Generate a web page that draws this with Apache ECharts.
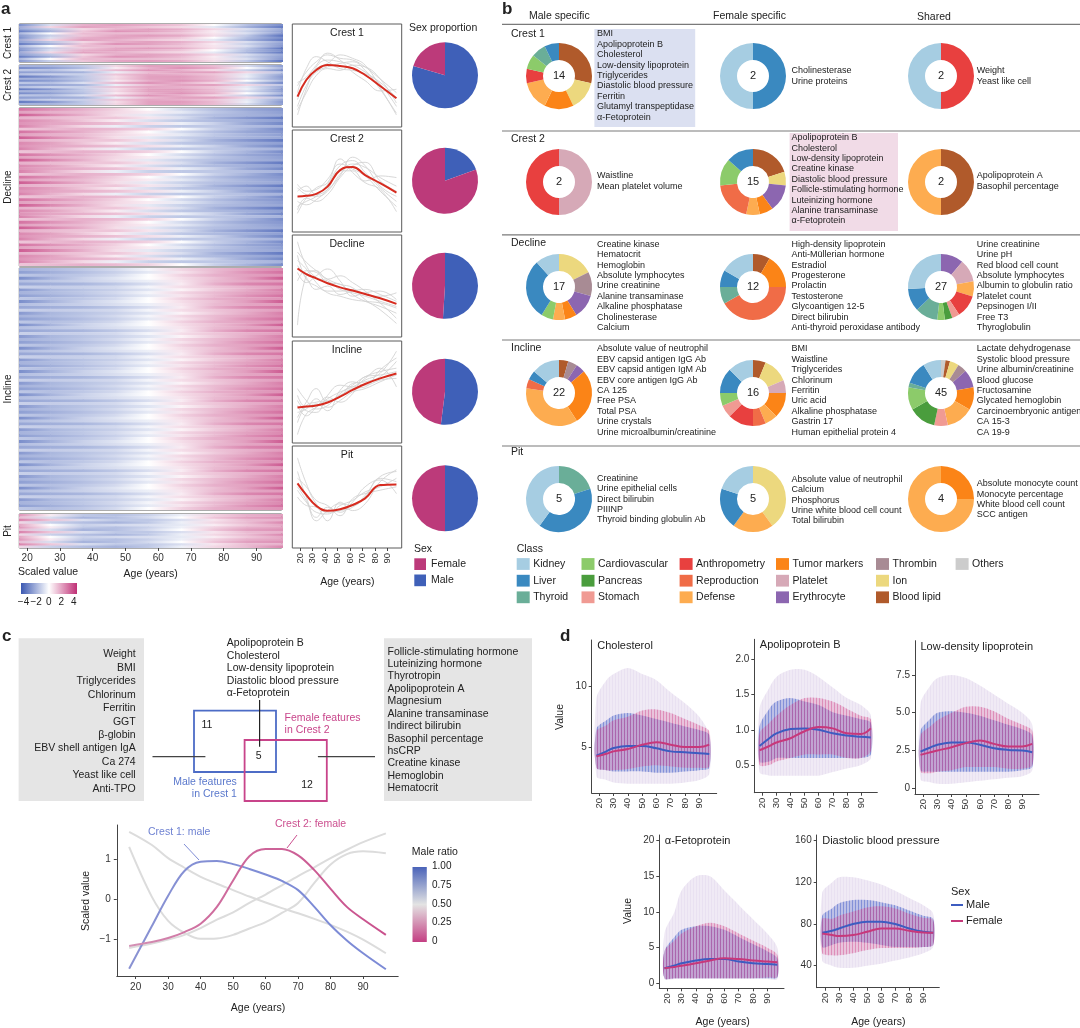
<!DOCTYPE html>
<html>
<head>
<meta charset="utf-8">
<title>Sex-specific ageing trajectories</title>
<script src="https://cdn.jsdelivr.net/npm/echarts@6.0.0/dist/echarts.min.js"></script>
<style>
  body { margin: 0; background: #fff; }
  #main { width: 1080px; height: 1028px; }
</style>
</head>
<body>
<div id="main"></div>
<script>
// ---------------- data ----------------
// panel a: heatmap row patterns (scaled value at heatAges), rows cycle through the patterns
const heatAges = [17, 27, 37, 47, 57, 67, 77, 87, 98];
const clusterNames = ['Crest 1', 'Crest 2', 'Decline', 'Incline', 'Pit'];
const clusterRows = [18, 19, 56, 83, 14];
const heatCrest1 = [
  [-2.5, -0.5, 1.2, 1.5, 1.2, 0.8, 0, -1.2, -2.5],
  [-1.8, 0.5, 1.5, 1.2, 0.8, 0.5, -0.3, -1.5, -3],
  [-2, -1, 0.5, 1.2, 1.5, 1.2, 0.5, -0.5, -1.8],
  [-3, -1.5, 0.8, 1.8, 1.5, 1, 0.2, -0.8, -2],
  [-1.5, 0, 1, 1, 1, 0.8, 0.3, -0.5, -2.2],
  [-2.2, -0.8, 0.8, 1.4, 1.6, 1.3, 0.4, -1, -3.2]
];
const heatCrest2 = [
  [-1.5, -1.5, -1, 0.5, 1.5, 1.5, 1, -0.5, -2],
  [-2.5, -2, -1.2, 0.2, 1.2, 1.8, 1.2, 0, -1.5],
  [-1, -1.2, -0.5, 1, 1.8, 1.2, 0.5, -0.8, -2.5],
  [-2, -1.8, -1.5, -0.2, 1, 1.5, 1.5, 0.5, -1],
  [-1.2, -0.8, -0.8, 0.8, 1.4, 1.2, 0.8, -0.3, -1.8],
  [-3, -2.2, -1, 0.4, 1.5, 1.6, 1, -0.2, -2.2]
];
const heatDecline = [
  [2.5, 1.8, 1.2, 0.6, 0, -0.6, -1.2, -1.8, -2.2],
  [1.5, 1.2, 1, 0.5, 0.2, -0.3, -1, -1.5, -2],
  [3, 2, 1.2, 0.4, -0.3, -0.8, -1.2, -1.5, -1.8],
  [1.2, 1, 0.8, 0.8, 0.3, -0.5, -1.5, -2.2, -3],
  [2, 1.5, 0.8, 0.2, -0.5, -1, -1.3, -1.6, -2],
  [1.8, 1.4, 1.2, 0.9, 0.4, -0.2, -0.8, -1.8, -2.6],
  [2.2, 1.2, 0.5, -0.2, -0.8, -1, -1, -1.2, -1.5],
  [0.8, 1, 1.2, 1, 0.6, 0, -0.8, -1.5, -2.5]
];
const heatIncline = [
  [-1.5, -1.3, -1, -0.6, -0.1, 0.5, 1, 1.5, 2],
  [-2, -1.6, -1.2, -0.8, -0.3, 0.3, 1, 1.8, 2.5],
  [-1, -1.2, -1, -0.6, 0, 0.6, 1.2, 1.5, 1.8],
  [-2.5, -1.5, -0.8, -0.4, 0, 0.4, 0.9, 1.6, 3],
  [-1.2, -1, -0.8, -0.5, -0.2, 0.3, 1, 1.4, 1.6],
  [-1.8, -1.6, -1.4, -1, -0.5, 0.2, 1.2, 2, 2.4],
  [-0.8, -0.9, -0.8, -0.6, -0.1, 0.4, 0.8, 1.2, 1.6],
  [-2.2, -1.4, -1.1, -0.8, -0.4, 0.1, 0.7, 1.3, 2.2]
];
const heatPit = [
  [1.8, 0.2, -1, -1.2, -0.8, -0.2, 0.6, 1.2, 1.5],
  [1, -0.5, -1.5, -1.2, -0.6, 0, 0.8, 1.5, 1.8],
  [2.2, 0.8, -0.5, -1, -1, -0.5, 0.3, 1, 1.2],
  [0.5, -0.8, -1.2, -1.5, -1, -0.2, 0.5, 1, 2],
  [1.5, 0, -0.8, -0.6, -0.5, -0.3, 0.2, 0.8, 1.4]
];

// panel a: cluster trajectories
const lineAges = [18, 25, 33, 42, 52, 62, 72, 84, 97];
const meanCrest1 = [-1.23, -0.26, 0.32, 0.61, 0.55, 0.42, 0.03, -0.61, -1.33];
const meanCrest2 = [-0.91, -0.87, -0.76, -0.33, 0.64, 0.83, 0.35, -0.13, -0.68];
const meanDecline = [1.03, 0.7, 0.45, 0.16, -0.08, -0.27, -0.47, -0.72, -1.05];
const meanIncline = [-0.91, -0.85, -0.8, -0.62, -0.27, 0.12, 0.47, 0.8, 1.09];
const meanPit = [0.8, 0.12, -0.52, -0.81, -0.72, -0.47, -0.08, 0.7, 0.74];
const greyCrest1 = [
  [-2.3, -0.8, 0.5, 0.9, 0.8, 0.6, 0.2, -0.5, -1.8],
  [-0.6, 0.2, 0.8, 1.2, 1.0, 0.9, 0.5, -0.2, -1.0],
  [-1.8, -0.6, 0.2, 0.5, 0.7, 0.8, 0.3, -0.8, -2.2],
  [-1.0, 0.4, 1.1, 0.8, 0.4, 0.3, 0.1, -0.4, -1.3],
  [-2.0, -1.0, 0.0, 0.4, 0.3, 0.6, 0.5, -0.2, -1.6],
  [-0.4, -0.1, 0.6, 1.3, 0.9, 0.2, -0.3, -0.9, -0.8],
  [-1.4, -0.3, 0.4, 0.7, 1.2, 1.0, 0.6, -0.7, -2.3]
];
const greyCrest2 = [
  [-1.5, -1.2, -0.9, -0.2, 0.9, 1.2, 0.5, -0.4, -1.2],
  [-0.4, -0.8, -0.9, -0.6, 0.4, 1.0, 0.8, 0.2, -0.3],
  [-1.9, -1.0, -0.4, -0.1, 1.3, 0.5, -0.1, -0.5, -1.8],
  [-0.6, -0.3, -0.8, -0.5, 0.3, 1.4, 0.9, -0.3, -0.9],
  [-1.2, -1.4, -1.1, -0.5, 0.6, 0.6, 0.0, 0.3, 0.2],
  [-0.2, -0.6, -0.5, 0.1, 1.0, 0.7, 0.3, -0.6, -1.5],
  [-1.7, -1.0, -1.2, -0.8, 0.2, 0.9, 1.1, 0.0, -0.6]
];
const greyDecline = [
  [2.6, 1.2, 0.5, 0.3, -0.2, -0.4, -0.6, -0.9, -1.2],
  [0.3, 0.9, 0.8, 0.2, 0.1, -0.5, -0.9, -1.2, -1.6],
  [1.8, 0.4, 0.0, -0.3, -0.3, -0.2, -0.5, -0.6, -0.4],
  [-2.3, 0.6, 0.9, 0.4, 0.6, 0.2, -0.3, -1.0, -1.9],
  [1.5, 1.0, 0.2, -0.4, -0.6, -0.8, -0.9, -1.0, -1.3],
  [0.8, 0.2, 0.6, 1.0, 0.3, -0.6, -0.4, -0.3, -0.8],
  [2.0, 1.4, 0.9, 0.4, 0.1, -0.1, -0.8, -1.4, -2.2],
  [1.2, 0.5, -0.2, 0.0, -0.5, -0.3, -0.2, -0.5, -0.9]
];
const greyIncline = [
  [-2.5, -1.3, -0.9, -0.4, 0.0, 0.3, 0.7, 1.1, 2.4],
  [0.2, -0.5, -1.0, -0.8, -0.1, 0.4, 0.9, 1.2, 1.4],
  [-1.2, -1.0, -0.4, -0.9, -0.5, 0.0, 0.2, 0.6, 1.0],
  [-0.5, -1.1, -1.2, -0.2, 0.4, 0.3, 0.8, 1.4, 0.3],
  [-1.8, -0.8, -0.6, -0.5, -0.3, 0.5, 0.6, 0.9, 1.8],
  [-0.8, -1.4, -0.9, -0.3, -0.6, -0.1, 0.9, 1.0, 1.2],
  [-1.5, -0.6, 0.2, -0.6, -0.2, 0.2, 0.3, 1.3, 2.0],
  [-0.2, -0.9, -0.7, -1.1, 0.1, 0.6, 0.4, 0.7, 0.8]
];
const greyPit = [
  [2.3, 0.8, -0.4, -0.9, -0.8, -0.6, 0.1, 1.2, 1.5],
  [0.4, -0.3, -0.9, -1.0, -0.5, -0.2, 0.3, 0.6, 1.1],
  [1.5, 0.0, -1.2, -0.6, -0.9, -0.3, 0.6, 1.0, 0.2],
  [0.0, -0.5, -0.6, -1.4, -0.3, -0.8, -0.4, 0.9, 1.6],
  [1.1, 0.6, -0.2, -0.5, -1.1, -0.1, 0.2, 0.4, 0.6],
  [0.6, -0.2, -1.4, -0.8, -0.4, -0.5, 0.0, 1.1, 0.9]
];
const sexMale = [79.5, 19.5, 51, 52, 50];
const sexFemale = [20.5, 80.5, 49, 48, 50];

// panel b: class composition of each group (clockwise from 12 o'clock)
const donutCrest1Male = [['Blood lipid', 4], ['Ion', 2], ['Tumor markers', 2], ['Defense', 2], ['Anthropometry', 1], ['Cardiovascular', 1], ['Thyroid', 1], ['Liver', 1]];
const donutCrest1Female = [['Liver', 1], ['Kidney', 1]];
const donutCrest1Shared = [['Anthropometry', 1], ['Kidney', 1]];
const donutCrest2Male = [['Platelet', 1], ['Anthropometry', 1]];
const donutCrest2Female = [['Blood lipid', 3], ['Ion', 1], ['Erythrocyte', 2], ['Tumor markers', 1], ['Defense', 1], ['Reproduction', 3], ['Cardiovascular', 2], ['Liver', 2]];
const donutCrest2Shared = [['Blood lipid', 1], ['Defense', 1]];
const donutDeclineMale = [['Ion', 3], ['Thrombin', 2], ['Erythrocyte', 2], ['Tumor markers', 1], ['Defense', 1], ['Cardiovascular', 1], ['Liver', 5], ['Kidney', 2]];
const donutDeclineFemale = [['Blood lipid', 1], ['Tumor markers', 2], ['Reproduction', 5], ['Thyroid', 1], ['Liver', 1], ['Kidney', 2]];
const donutDeclineShared = [['Erythrocyte', 3], ['Platelet', 3], ['Defense', 2], ['Anthropometry', 3], ['Stomach', 1], ['Pancreas', 1], ['Cardiovascular', 1], ['Thyroid', 3], ['Liver', 3], ['Kidney', 7]];
const donutInclineMale = [['Blood lipid', 1], ['Thrombin', 1], ['Erythrocyte', 1], ['Tumor markers', 6], ['Defense', 8], ['Reproduction', 1], ['Liver', 1], ['Kidney', 3]];
const donutInclineFemale = [['Blood lipid', 1], ['Ion', 2], ['Platelet', 1], ['Tumor markers', 2], ['Defense', 1], ['Reproduction', 1], ['Anthropometry', 2], ['Stomach', 1], ['Cardiovascular', 1], ['Liver', 2], ['Kidney', 2]];
const donutInclineShared = [['Others', 1], ['Blood lipid', 1], ['Ion', 2], ['Thrombin', 2], ['Erythrocyte', 4], ['Tumor markers', 5], ['Defense', 6], ['Stomach', 3], ['Pancreas', 6], ['Cardiovascular', 5], ['Thyroid', 1], ['Liver', 5], ['Kidney', 4]];
const donutPitMale = [['Thyroid', 1], ['Liver', 2], ['Kidney', 2]];
const donutPitFemale = [['Ion', 2], ['Defense', 1], ['Liver', 1], ['Kidney', 1]];
const donutPitShared = [['Tumor markers', 1], ['Defense', 3]];

const listCrest1Male = ['BMI', 'Apolipoprotein B', 'Cholesterol', 'Low-density lipoprotein', 'Triglycerides', 'Diastolic blood pressure', 'Ferritin', 'Glutamyl transpeptidase', 'α-Fetoprotein'];
const listCrest1Female = ['Cholinesterase', 'Urine proteins'];
const listCrest1Shared = ['Weight', 'Yeast like cell'];
const listCrest2Male = ['Waistline', 'Mean platelet volume'];
const listCrest2Female = ['Apolipoprotein B', 'Cholesterol', 'Low-density lipoprotein', 'Creatine kinase', 'Diastolic blood pressure', 'Follicle-stimulating hormone', 'Luteinizing hormone', 'Alanine transaminase', 'α-Fetoprotein'];
const listCrest2Shared = ['Apolipoprotein A', 'Basophil percentage'];
const listDeclineMale = ['Creatine kinase', 'Hematocrit', 'Hemoglobin', 'Absolute lymphocytes', 'Urine creatinine', 'Alanine transaminase', 'Alkaline phosphatase', 'Cholinesterase', 'Calcium'];
const listDeclineFemale = ['High-density lipoprotein', 'Anti-Müllerian hormone', 'Estradiol', 'Progesterone', 'Prolactin', 'Testosterone', 'Glycoantigen 12-5', 'Direct bilirubin', 'Anti-thyroid peroxidase antibody'];
const listDeclineShared = ['Urine creatinine', 'Urine pH', 'Red blood cell count', 'Absolute lymphocytes', 'Albumin to globulin ratio', 'Platelet count', 'Pepsinogen I/II', 'Free T3', 'Thyroglobulin'];
const listInclineMale = ['Absolute value of neutrophil', 'EBV capsid antigen IgG Ab', 'EBV capsid antigen IgM Ab', 'EBV core antigen IgG Ab', 'CA 125', 'Free PSA', 'Total PSA', 'Urine crystals', 'Urine microalbumin/creatinine'];
const listInclineFemale = ['BMI', 'Waistline', 'Triglycerides', 'Chlorinum', 'Ferritin', 'Uric acid', 'Alkaline phosphatase', 'Gastrin 17', 'Human epithelial protein 4'];
const listInclineShared = ['Lactate dehydrogenase', 'Systolic blood pressure', 'Urine albumin/creatinine', 'Blood glucose', 'Fructosamine', 'Glycated hemoglobin', 'Carcinoembryonic antigen', 'CA 15-3', 'CA 19-9'];
const listPitMale = ['Creatinine', 'Urine epithelial cells', 'Direct bilirubin', 'PIIINP', 'Thyroid binding globulin Ab'];
const listPitFemale = ['Absolute value of neutrophil', 'Calcium', 'Phosphorus', 'Urine white blood cell count', 'Total bilirubin'];
const listPitShared = ['Absolute monocyte count', 'Monocyte percentage', 'White blood cell count', 'SCC antigen'];
const legendClasses = [['Kidney', 'Liver', 'Thyroid'], ['Cardiovascular', 'Pancreas', 'Stomach'], ['Anthropometry', 'Reproduction', 'Defense'], ['Tumor markers', 'Platelet', 'Erythrocyte'], ['Thrombin', 'Ion', 'Blood lipid'], ['Others']];

// panel c
const vennLeft = ['Weight', 'BMI', 'Triglycerides', 'Chlorinum', 'Ferritin', 'GGT', 'β-globin', 'EBV shell antigen IgA', 'Ca 274', 'Yeast like cell', 'Anti-TPO'];
const vennMid = ['Apolipoprotein B', 'Cholesterol', 'Low-density lipoprotein', 'Diastolic blood pressure', 'α-Fetoprotein'];
const vennRight = ['Follicle-stimulating hormone', 'Luteinizing hormone', 'Thyrotropin', 'Apolipoprotein A', 'Magnesium', 'Alanine transaminase', 'Indirect bilirubin', 'Basophil percentage', 'hsCRP', 'Creatine kinase', 'Hemoglobin', 'Hematocrit'];
const vennCounts = [11, 5, 12];
const cAges = [18, 25, 30, 35, 40, 45, 50, 55, 60, 65, 70, 75, 80, 85, 90, 97];
const cCrest1Male = [-1.75, -0.68, 0.08, 0.7, 0.93, 0.95, 0.87, 0.75, 0.61, 0.45, 0.22, -0.2, -0.66, -1.04, -1.36, -1.76];
const cCrest2Female = [-1.18, -1.08, -0.98, -0.83, -0.62, -0.2, 0.46, 1.07, 1.25, 1.25, 1.09, 0.72, 0.25, -0.2, -0.51, -0.9];
const cDecline = [1.68, 1.35, 1.02, 0.78, 0.55, 0.38, 0.22, 0.06, -0.09, -0.23, -0.36, -0.5, -0.65, -0.82, -1.02, -1.36];
const cPit = [1.3, 0.05, -0.55, -0.85, -1.0, -0.99, -0.9, -0.74, -0.58, -0.35, -0.1, 0.4, 0.86, 1.12, 1.19, 1.14];
const cIncline = [-1.23, -1.12, -1.02, -0.9, -0.73, -0.52, -0.34, -0.1, 0.11, 0.34, 0.57, 0.79, 1.02, 1.23, 1.42, 1.64];
const ratioLabels = ['1.00', '0.75', '0.50', '0.25', '0'];

// panel d: per-age cloud envelopes and smoothed means
const dAges = [18, 25, 30, 40, 50, 60, 70, 80, 90, 97];
const cholMale = [4.3, 4.65, 4.92, 5.1, 5.1, 4.9, 4.65, 4.57, 4.5, 4.43];
const cholFemale = [4.24, 4.45, 4.65, 4.84, 5.19, 5.4, 5.2, 5.0, 5.0, 5.2];
const cholOuterLo = [2.6, 2.3, 2.1, 2.0, 2.0, 2.0, 2.0, 2.1, 2.3, 2.8];
const cholOuterHi = [9.0, 10.5, 11.0, 11.5, 11.0, 10.5, 9.5, 8.6, 7.5, 6.0];
const cholMaleLo = [3.3, 3.1, 3.0, 3.0, 3.0, 2.9, 2.9, 3.0, 3.1, 3.3];
const cholMaleHi = [6.5, 7.2, 7.6, 7.8, 7.6, 7.3, 7.0, 6.7, 6.4, 6.0];
const cholFemaleLo = [3.3, 3.1, 3.1, 3.2, 3.4, 3.5, 3.4, 3.3, 3.3, 3.4];
const cholFemaleHi = [6.3, 6.8, 7.2, 7.5, 8.0, 8.1, 7.8, 7.3, 6.8, 6.3];
const apobMale = [0.77, 0.88, 0.95, 1.01, 1.02, 1.0, 0.95, 0.92, 0.9, 0.89];
const apobFemale = [0.71, 0.77, 0.82, 0.88, 0.98, 1.04, 1.02, 0.95, 0.94, 1.02];
const apobOuterLo = [0.4, 0.35, 0.35, 0.35, 0.35, 0.35, 0.4, 0.45, 0.5, 0.6];
const apobOuterHi = [1.3, 1.6, 1.75, 1.85, 1.85, 1.75, 1.6, 1.45, 1.35, 1.2];
const apobMaleLo = [0.55, 0.55, 0.6, 0.6, 0.6, 0.6, 0.6, 0.6, 0.6, 0.65];
const apobMaleHi = [1.05, 1.3, 1.4, 1.45, 1.4, 1.35, 1.25, 1.2, 1.15, 1.1];
const apobFemaleLo = [0.5, 0.5, 0.55, 0.6, 0.65, 0.65, 0.65, 0.6, 0.6, 0.7];
const apobFemaleHi = [0.95, 1.1, 1.2, 1.35, 1.45, 1.45, 1.4, 1.3, 1.2, 1.15];
const ldlMale = [2.43, 2.7, 2.88, 3.03, 3.03, 2.88, 2.65, 2.54, 2.5, 2.39];
const ldlFemale = [2.21, 2.38, 2.5, 2.72, 2.99, 3.16, 2.94, 2.77, 2.77, 2.94];
const ldlOuterLo = [0.6, 0.4, 0.3, 0.3, 0.4, 0.5, 0.6, 0.7, 0.8, 1.2];
const ldlOuterHi = [5.6, 6.8, 7.3, 7.5, 7.3, 6.8, 6.2, 5.6, 5.0, 4.2];
const ldlMaleLo = [1.2, 1.1, 1.1, 1.1, 1.1, 1.1, 1.1, 1.1, 1.2, 1.4];
const ldlMaleHi = [3.8, 4.6, 5.0, 5.1, 5.0, 4.8, 4.5, 4.2, 3.9, 3.5];
const ldlFemaleLo = [1.1, 1.0, 1.1, 1.2, 1.4, 1.4, 1.4, 1.3, 1.3, 1.5];
const ldlFemaleHi = [3.5, 4.1, 4.5, 5.0, 5.4, 5.4, 5.1, 4.6, 4.2, 3.8];
const afpMale = [2.1, 2.5, 2.8, 3.2, 3.4, 3.4, 3.05, 2.8, 2.7, 2.6];
const afpFemale = [2.1, 2.3, 2.45, 2.8, 3.2, 3.5, 3.4, 3.2, 3.05, 2.95];
const afpOuterLo = [0.6, 0.6, 0.6, 0.6, 0.6, 0.6, 0.6, 0.6, 0.6, 0.6];
const afpOuterHi = [7, 10, 13, 15, 15, 13, 11, 9, 7, 5];
const afpMaleLo = [0.7, 0.7, 0.7, 0.7, 0.7, 0.7, 0.7, 0.7, 0.7, 0.8];
const afpMaleHi = [4.5, 6.5, 7.5, 8, 8, 7.5, 6.5, 5.5, 4.5, 3.5];
const afpFemaleLo = [0.7, 0.7, 0.7, 0.7, 0.7, 0.7, 0.7, 0.7, 0.8, 0.9];
const afpFemaleHi = [4.5, 6.0, 7.0, 8.0, 8.5, 8.0, 7.0, 6.0, 5.0, 4.0];
const dbpMale = [71.7, 73.5, 75.8, 80, 82.2, 82.2, 80, 75.8, 72.6, 71.7];
const dbpFemale = [71, 69.5, 68.5, 69.4, 72.6, 75.8, 75.8, 73.6, 72, 71.7];
const dbpOuterLo = [45, 40, 38, 38, 40, 42, 45, 48, 52, 58];
const dbpOuterHi = [110, 120, 125, 125, 122, 118, 112, 105, 98, 90];
const dbpMaleLo = [58, 60, 62, 63, 62, 60, 58, 58, 58, 60];
const dbpMaleHi = [88, 95, 100, 103, 103, 101, 98, 93, 88, 85];
const dbpFemaleLo = [52, 50, 50, 52, 55, 57, 57, 57, 58, 60];
const dbpFemaleHi = [85, 85, 88, 92, 96, 97, 95, 90, 86, 84];
const tickAges = [20, 30, 40, 50, 60, 70, 80, 90];

// ---------------- styles ----------------
const FONT = '"Liberation Sans", Arial, Helvetica, sans-serif';
const INK = '#222';
const MALE = '#3f60b8';
const FEMALE = '#bc3a7a';
const classColors = {
  'Kidney': '#a6cde2', 'Liver': '#3a89c0', 'Thyroid': '#6aae98', 'Cardiovascular': '#8ccb6a', 'Pancreas': '#4a9d3d',
  'Stomach': '#f09a93', 'Anthropometry': '#e8403f', 'Reproduction': '#f06c47', 'Defense': '#fdac50',
  'Tumor markers': '#fb8417', 'Platelet': '#d6a9b7', 'Erythrocyte': '#8c66b0', 'Thrombin': '#a88b94',
  'Ion': '#ecd87e', 'Blood lipid': '#b05a2b', 'Others': '#cccccc'
};

// diverging blue-white-magenta scale for the scaled values (-4..4)
function heatColor(v) {
  const t = Math.max(-1, Math.min(1, v / 4));
  const end = t < 0 ? [59, 88, 178] : [192, 48, 118];
  const a = Math.pow(Math.abs(t), 0.8);
  const c = [0, 1, 2].map(i => Math.round(255 + (end[i] - 255) * a));
  return 'rgb(' + c.join(',') + ')';
}

// vertical-stripe fill used for the dense point clouds of panel d
function stripes(rgb, a1, a2) {
  const cv = document.createElement('canvas');
  cv.width = 3; cv.height = 2;
  const ctx = cv.getContext('2d');
  ctx.fillStyle = 'rgba(' + rgb + ',' + a1 + ')';
  ctx.fillRect(0, 0, 1, 2);
  ctx.fillStyle = 'rgba(' + rgb + ',' + a2 + ')';
  ctx.fillRect(1, 0, 2, 2);
  return { image: cv, repeat: 'repeat' };
}

// ---------------- builders ----------------
const grids = [], xAxes = [], yAxes = [], series = [], G = [];

function addGrid(l, t, r, b, extra) {
  grids.push(Object.assign({ left: l, top: t, width: r - l, height: b - t, containLabel: false, outerBoundsMode: 'none' }, extra || {}));
  return grids.length - 1;
}
function valAxis(gi, min, max, o) {
  o = o || {};
  return {
    type: 'value', gridIndex: gi, min: min, max: max, inverse: !!o.inverse, show: o.show !== false,
    axisLine: { show: !!o.line, onZero: false, lineStyle: { color: '#444', width: 1 } },
    axisTick: { show: !!o.ticks, customValues: o.ticks, length: 3, lineStyle: { color: '#444' } },
    axisLabel: { show: !!o.ticks, customValues: o.ticks, color: '#333', fontSize: o.fs || 10, fontFamily: FONT,
      rotate: o.rot || 0, margin: o.margin || 4, formatter: o.fmt },
    splitLine: { show: false }
  };
}
function text(x, y, s, o) {
  o = o || {};
  G.push({
    type: 'text', x: x, y: y, rotation: o.rot || 0, z: 100, silent: true,
    style: {
      text: s, fill: o.color || INK, fontSize: o.size || 10.5, fontFamily: FONT, fontWeight: o.weight || 'normal',
      align: o.align || 'left', verticalAlign: o.va || 'middle',
      textAlign: o.align || 'left', textVerticalAlign: o.va || 'middle', lineHeight: o.lh
    }
  });
}
function list(x, yFirst, lines, lh, o) {
  o = Object.assign({ size: 9, lh: lh, va: 'top' }, o || {});
  text(x, yFirst - lh / 2, lines.join('\n'), o);
}
function rect(x, y, w, h, style, z) {
  G.push({ type: 'rect', z: z || 1, silent: true, shape: { x: x, y: y, width: w, height: h }, style: style });
}
function seg(x1, y1, x2, y2, color, w) {
  G.push({ type: 'line', z: 50, silent: true, shape: { x1: x1, y1: y1, x2: x2, y2: y2 }, style: { stroke: color, lineWidth: w || 1 } });
}
function lineSeries(gi, ages, vals, style, smooth) {
  return {
    type: 'line', xAxisIndex: gi, yAxisIndex: gi, symbol: 'none', silent: true, smooth: smooth == null ? 0.4 : smooth,
    lineStyle: style, data: ages.map((a, i) => [a, vals[i]]), z: style.z || 3
  };
}

// ================= panel a =================
text(1, 9, 'a', { size: 17, weight: 'bold' });
const heatBoxes = [[24, 62], [65, 105], [108, 266], [268, 510], [514, 548]];
const heatPatterns = [heatCrest1, heatCrest2, heatDecline, heatIncline, heatPit];
heatBoxes.forEach((bx, k) => {
  const gi = addGrid(19.3, bx[0], 281.7, bx[1], { show: true, borderColor: '#5a5a5a', borderWidth: 1, backgroundColor: '#fff' });
  const last = k === 4;
  xAxes.push(valAxis(gi, 17.6, 97.7, last ? { ticks: tickAges, margin: 5 } : { show: false }));
  yAxes.push(valAxis(gi, 0, clusterRows[k], { inverse: true, show: false }));
  const pats = heatPatterns[k];
  const data = [];
  for (let r = 0; r < clusterRows[k]; r++) {
    const p = pats[r % pats.length];
    for (let j = 0; j < heatAges.length - 1; j++) data.push([heatAges[j], heatAges[j + 1], r, p[j], p[j + 1]]);
  }
  series.push({
    type: 'custom', xAxisIndex: gi, yAxisIndex: gi, clip: true, silent: true,
    encode: { x: [0, 1], y: 2 },
    renderItem: function (params, api) {
      const p0 = api.coord([api.value(0), api.value(2)]);
      const p1 = api.coord([api.value(1), api.value(2) + 1]);
      return {
        type: 'rect',
        shape: { x: p0[0], y: p0[1], width: p1[0] - p0[0] + 0.6, height: p1[1] - p0[1] + 0.4 },
        style: { fill: new echarts.graphic.LinearGradient(0, 0, 1, 0, [
          { offset: 0, color: heatColor(api.value(3)) }, { offset: 1, color: heatColor(api.value(4)) }]) }
      };
    },
    data: data
  });
  text(8.5, (bx[0] + bx[1]) / 2, clusterNames[k], { rot: Math.PI / 2, align: 'center', size: 10 });
});
text(150.7, 574.5, 'Age (years)', { align: 'center' });
text(18, 572, 'Scaled value', { size: 10.5 });
rect(21, 583, 56, 11, { fill: new echarts.graphic.LinearGradient(0, 0, 1, 0, [
  { offset: 0, color: heatColor(-4) }, { offset: 0.5, color: '#ffffff' }, { offset: 1, color: heatColor(4) }]) });
['−4', '−2', '0', '2', '4'].forEach((s, i) => text(23.5 + i * 12.6, 602, s, { align: 'center', size: 10 }));

// trajectories
const panelBoxes = [[24, 127], [130, 232], [235, 337], [341, 443], [446, 548]];
const means = [meanCrest1, meanCrest2, meanDecline, meanIncline, meanPit];
const greys = [greyCrest1, greyCrest2, greyDecline, greyIncline, greyPit];
panelBoxes.forEach((bx, k) => {
  const gi = addGrid(292.3, bx[0], 401.7, bx[1], { show: true, borderColor: '#5a5a5a', borderWidth: 1 });
  const last = k === 4;
  xAxes.push(valAxis(gi, 13.85, 101.2, last ? { ticks: tickAges, rot: 90, fs: 9.5, margin: 5 } : { show: false }));
  yAxes.push(valAxis(gi, -3, 3, { show: false }));
  greys[k].forEach(g => series.push(lineSeries(gi, lineAges, g, { color: '#d2d2d2', width: 0.9 }, 0.45)));
  series.push(lineSeries(gi, lineAges, means[k], { color: '#d62b1f', width: 2, z: 5 }, 0.45));
  text(347, bx[0] + 9.3, clusterNames[k], { align: 'center', size: 10.5 });
});
text(347.3, 582, 'Age (years)', { align: 'center' });

// sex proportion pies
text(409, 28.5, 'Sex proportion', { size: 10.5 });
const pieY = [75.3, 180.7, 285.8, 391.7, 498.3];
pieY.forEach((cy, k) => {
  series.push({
    type: 'pie', center: [445, cy], radius: 33, silent: true, startAngle: 90, clockwise: true,
    label: { show: false }, labelLine: { show: false }, itemStyle: { borderWidth: 0 },
    data: [{ name: 'Male', value: sexMale[k], itemStyle: { color: MALE } },
           { name: 'Female', value: sexFemale[k], itemStyle: { color: FEMALE } }]
  });
});
text(414, 549, 'Sex', { size: 10.5 });
rect(414.3, 558.3, 11.7, 11.7, { fill: FEMALE });
rect(414.3, 574.5, 11.7, 11.7, { fill: MALE });
text(431, 564.2, 'Female', { size: 10.5 });
text(431, 580.5, 'Male', { size: 10.5 });

// ================= panel b =================
text(502, 9, 'b', { size: 17, weight: 'bold' });
text(529, 16, 'Male specific');
text(713, 16, 'Female specific');
text(917, 17.5, 'Shared');
[24.3, 131, 234.8, 340, 446].forEach(y => seg(502, y, 1080, y, '#7a7a7a', 1.2));
const bRowLabelY = [34, 139, 243, 348, 452];
clusterNames.forEach((n, k) => text(511, bRowLabelY[k], n));
rect(594.4, 29, 100.8, 98, { fill: '#dbe0f1' }, 0);
rect(789.6, 133, 108.4, 98, { fill: '#f1dbe7' }, 0);
const donuts = [
  [donutCrest1Male, donutCrest1Female, donutCrest1Shared],
  [donutCrest2Male, donutCrest2Female, donutCrest2Shared],
  [donutDeclineMale, donutDeclineFemale, donutDeclineShared],
  [donutInclineMale, donutInclineFemale, donutInclineShared],
  [donutPitMale, donutPitFemale, donutPitShared]
];
const lists = [
  [listCrest1Male, listCrest1Female, listCrest1Shared],
  [listCrest2Male, listCrest2Female, listCrest2Shared],
  [listDeclineMale, listDeclineFemale, listDeclineShared],
  [listInclineMale, listInclineFemale, listInclineShared],
  [listPitMale, listPitFemale, listPitShared]
];
const bColX = [559, 753, 941];
const bTextX = [597, 791.5, 976.7];
const bRowY = [76, 182, 287, 393, 499];
const bTextY = [[34, 71, 71], [176, 137.7, 176], [244.3, 244.3, 244.3], [349, 349, 349], [478.3, 479.3, 483.7]];
donuts.forEach((row, r) => row.forEach((d, c) => {
  series.push({
    type: 'pie', center: [bColX[c], bRowY[r]], radius: [16, 33], silent: true, startAngle: 90, clockwise: true,
    label: { show: false }, labelLine: { show: false }, itemStyle: { borderWidth: 0 },
    data: d.map(e => ({ name: e[0], value: e[1], itemStyle: { color: classColors[e[0]] } }))
  });
  const total = d.reduce((s, e) => s + e[1], 0);
  text(bColX[c], bRowY[r], String(total), { align: 'center', size: 11 });
  list(bTextX[c], bTextY[r][c], lists[r][c], 10.4);
}));
text(516.7, 549.3, 'Class', { size: 10.5 });
const legX = [516.7, 581.5, 679.6, 776, 876, 955.6];
const legY = [564, 580.7, 597.3];
legendClasses.forEach((col, i) => col.forEach((name, j) => {
  rect(legX[i], legY[j] - 5.9, 13, 11.8, { fill: classColors[name] });
  text(legX[i] + 16.5, legY[j], name, { size: 10.5 });
}));

// ================= panel c =================
text(2, 636, 'c', { size: 17, weight: 'bold' });
rect(18.6, 638.3, 125.4, 162.7, { fill: '#e5e5e5' }, 0);
rect(384, 638.3, 148, 162.7, { fill: '#e5e5e5' }, 0);
list(135.7, 654.3, vennLeft, 13.47, { align: 'right', size: 10.5 });
list(387.5, 651.7, vennRight, 12.42, { size: 10.5 });
list(226.8, 643.3, vennMid, 12.5, { size: 10.5 });
seg(259.6, 700, 259.6, 746.7, '#222', 1.2);
rect(194, 710.7, 82, 61.3, { fill: 'none', stroke: '#4d6cc6', lineWidth: 1.8 }, 40);
rect(244.6, 740, 82.2, 61, { fill: 'none', stroke: '#c8448a', lineWidth: 1.8 }, 41);
text(207, 725, String(vennCounts[0]), { align: 'center' });
text(258.6, 756, String(vennCounts[1]), { align: 'center' });
text(307, 785, String(vennCounts[2]), { align: 'center' });
text(284.6, 718.3, 'Female features', { color: '#c8448a' });
text(284.6, 730.5, 'in Crest 2', { color: '#c8448a' });
text(236.8, 782.3, 'Male features', { color: '#5a78cc', align: 'right' });
text(236.8, 794.5, 'in Crest 1', { color: '#5a78cc', align: 'right' });
seg(152.5, 756.7, 205.4, 756.7, '#444', 1.2);
seg(317.9, 756.7, 375, 756.7, '#444', 1.2);

const gc = addGrid(116.8, 825, 398.2, 976);
xAxes.push(valAxis(gc, 14.2, 100.8, { line: true, ticks: tickAges, margin: 6 }));
yAxes.push(valAxis(gc, -1.93, 1.85, { line: true, ticks: [-1, 0, 1], margin: 6, fmt: v => String(v).replace('-', '−') }));
[cDecline, cPit, cIncline].forEach(v => series.push(lineSeries(gc, cAges, v, { color: '#dcdcdc', width: 2 }, 0.35)));
series.push(lineSeries(gc, cAges, cCrest1Male, {
  width: 2, z: 6, color: new echarts.graphic.LinearGradient(0, 0, 1, 0, [
    { offset: 0, color: '#8a92d2' }, { offset: 0.5, color: '#7f8dd6' }, { offset: 1, color: '#7c8ad6' }])
}, 0.35));
series.push(lineSeries(gc, cAges, cCrest2Female, {
  width: 2, z: 7, color: new echarts.graphic.LinearGradient(0, 0, 1, 0, [
    { offset: 0, color: '#d493b6' }, { offset: 0.3, color: '#cf6e9f' }, { offset: 1, color: '#c9508c' }])
}, 0.35));
text(148, 832, 'Crest 1: male', { color: '#6f82d2' });
seg(184, 844, 199, 860, '#7f8dd6', 1);
text(275, 824, 'Crest 2: female', { color: '#cc4f8f' });
seg(297, 835, 287, 848, '#cc4f8f', 1);
text(85.7, 901, 'Scaled value', { rot: Math.PI / 2, align: 'center' });
text(258, 1008, 'Age (years)', { align: 'center' });
text(411.8, 852, 'Male ratio');
rect(412.5, 867, 14.3, 75, { fill: new echarts.graphic.LinearGradient(0, 0, 0, 1, [
  { offset: 0, color: '#4a63b9' }, { offset: 0.5, color: '#e3e3e3' }, { offset: 1, color: '#c43f83' }]) });
ratioLabels.forEach((s, i) => text(432, 866.5 + i * 18.7, s, { size: 10 }));

// ================= panel d =================
text(560, 636, 'd', { size: 17, weight: 'bold' });
const dPlots = [
  { box: [591.7, 640, 716.7, 793], x: [14.7, 102.2], y: [1.23, 13.8], ticks: [5, 10], title: 'Cholesterol',
    m: cholMale, f: cholFemale, oLo: cholOuterLo, oHi: cholOuterHi, mLo: cholMaleLo, mHi: cholMaleHi, fLo: cholFemaleLo, fHi: cholFemaleHi },
  { box: [754.3, 639.3, 877.3, 792.7], x: [14.3, 101.6], y: [0.108, 2.283], ticks: [0.5, 1, 1.5, 2], fmt: v => v.toFixed(1), title: 'Apolipoprotein B',
    m: apobMale, f: apobFemale, oLo: apobOuterLo, oHi: apobOuterHi, mLo: apobMaleLo, mHi: apobMaleHi, fLo: apobFemaleLo, fHi: apobFemaleHi },
  { box: [915, 640.7, 1039, 794], x: [14.1, 101.8], y: [-0.38, 9.77], ticks: [0, 2.5, 5, 7.5], fmt: v => v === 0 ? '0' : v.toFixed(1), title: 'Low-density lipoprotein',
    m: ldlMale, f: ldlFemale, oLo: ldlOuterLo, oHi: ldlOuterHi, mLo: ldlMaleLo, mHi: ldlMaleHi, fLo: ldlFemaleLo, fHi: ldlFemaleHi },
  { box: [659.3, 835, 784, 988.3], x: [14.4, 101.7], y: [-0.7, 20.8], ticks: [0, 5, 10, 15, 20], title: 'α-Fetoprotein',
    m: afpMale, f: afpFemale, oLo: afpOuterLo, oHi: afpOuterHi, mLo: afpMaleLo, mHi: afpMaleHi, fLo: afpFemaleLo, fHi: afpFemaleHi },
  { box: [816.7, 835, 939.3, 987.7], x: [14.1, 101.4], y: [18.9, 165.5], ticks: [40, 80, 120, 160], title: 'Diastolic blood pressure',
    m: dbpMale, f: dbpFemale, oLo: dbpOuterLo, oHi: dbpOuterHi, mLo: dbpMaleLo, mHi: dbpMaleHi, fLo: dbpFemaleLo, fHi: dbpFemaleHi }
];
const outerFill = stripes('170,140,200', 0.26, 0.18);
const maleFill = stripes('70,95,200', 0.62, 0.30);
const femaleFill = stripes('210,60,130', 0.50, 0.22);
// envelope between lo and hi, drawn as one smoothed polygon through the axis scales
function band(gi, lo, hi, fill) {
  series.push({
    type: 'custom', xAxisIndex: gi, yAxisIndex: gi, silent: true, clip: true, z: 2,
    encode: { x: 0, y: [1, 2] },
    data: dAges.map((a, i) => [a, lo[i], hi[i]]),
    renderItem: function (params, api) {
      if (params.dataIndex !== 0) return null;
      const up = dAges.map((a, i) => api.coord([a, hi[i]]));
      const dn = dAges.map((a, i) => api.coord([a, lo[i]])).reverse();
      return { type: 'polygon', shape: { points: up.concat(dn), smooth: 0.3 }, style: { fill: fill } };
    }
  });
}
dPlots.forEach((p, k) => {
  const gi = addGrid(p.box[0], p.box[1], p.box[2], p.box[3]);
  xAxes.push(valAxis(gi, p.x[0], p.x[1], { line: true, ticks: tickAges, rot: 90, fs: 9.5, margin: 5 }));
  yAxes.push(valAxis(gi, p.y[0], p.y[1], { line: true, ticks: p.ticks, fs: 10, margin: 5, fmt: p.fmt }));
  band(gi, p.oLo, p.oHi, outerFill);
  band(gi, p.mLo, p.mHi, maleFill);
  band(gi, p.fLo, p.fHi, femaleFill);
  series.push(lineSeries(gi, dAges, p.m, { color: '#3d5cc0', width: 2, z: 8 }, 0.4));
  series.push(lineSeries(gi, dAges, p.f, { color: '#c7387a', width: 2, z: 9 }, 0.4));
  text(p.box[0] + 5.5, p.box[1] + 6, p.title, { size: 11 });
});
text(560, 717, 'Value', { rot: Math.PI / 2, align: 'center' });
text(628, 911, 'Value', { rot: Math.PI / 2, align: 'center' });
text(722.7, 1022, 'Age (years)', { align: 'center' });
text(878.3, 1022, 'Age (years)', { align: 'center' });
text(951, 892, 'Sex', { size: 11 });
seg(951, 905, 963, 905, '#3d5cc0', 2);
seg(951, 921, 963, 921, '#c7387a', 2);
text(966, 905, 'Male', { size: 11 });
text(966, 921, 'Female', { size: 11 });

// ---------------- render ----------------
const chart = echarts.init(document.getElementById('main'));
chart.setOption({
  animation: false,
  backgroundColor: '#ffffff',
  textStyle: { fontFamily: FONT },
  grid: grids,
  xAxis: xAxes,
  yAxis: yAxes,
  series: series,
  graphic: { elements: G }
});
</script>
</body>
</html>
